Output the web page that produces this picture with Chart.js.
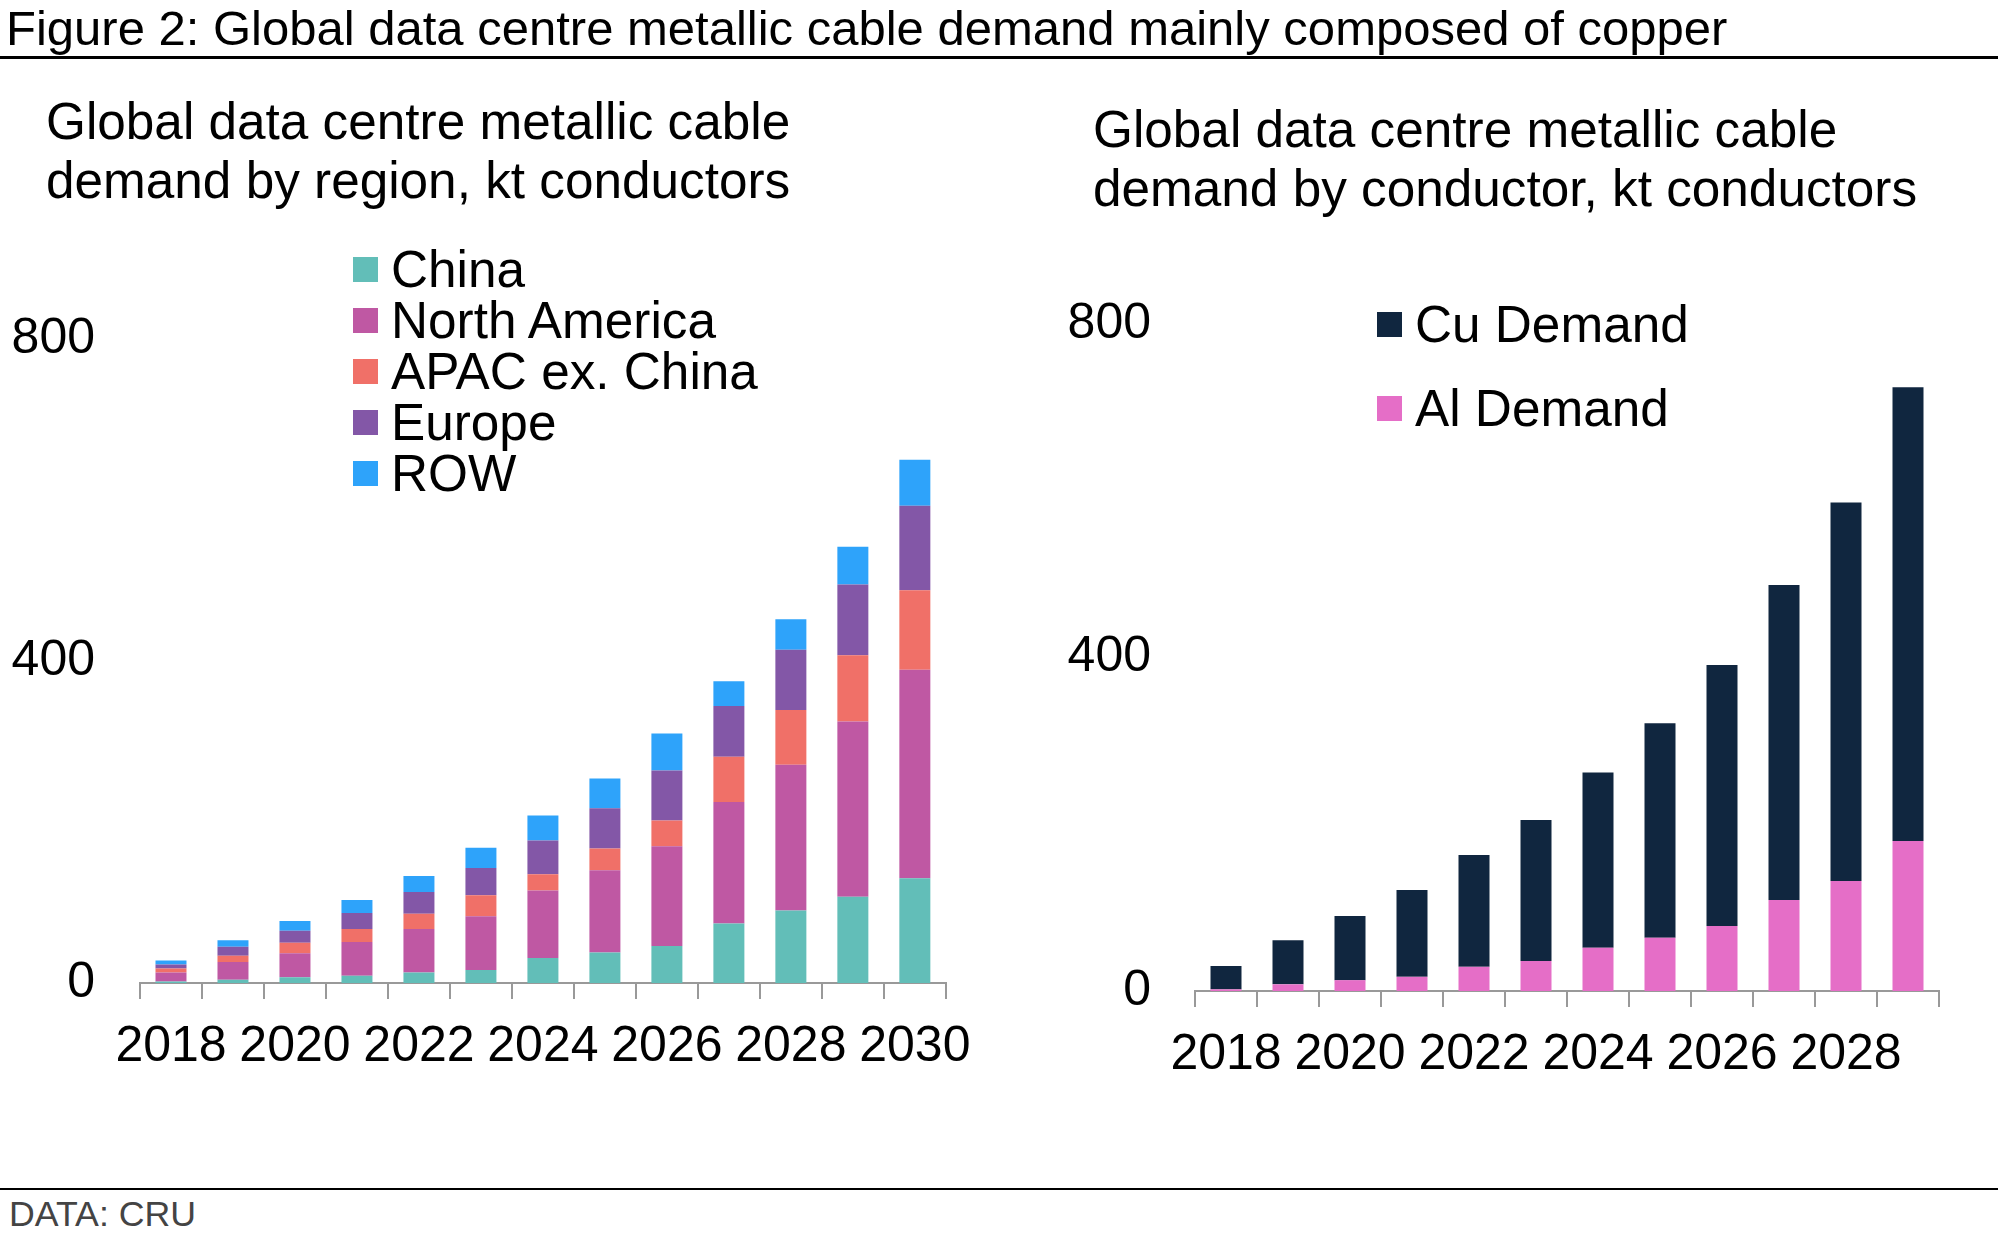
<!DOCTYPE html>
<html>
<head>
<meta charset="utf-8">
<script src="https://cdn.jsdelivr.net/npm/chart.js@4"></script>
<style>
	body { margin: 0; width: 1998px; height: 1234px; background: #fff; font-family: "Liberation Sans", Arial, sans-serif; position: relative; overflow: hidden; }
	.abs { position: absolute; white-space: nowrap; }
	#title { left: 6px; top: 1px; font-size: 49px; line-height: 54px; color: #000; }
	#rule1 { left: 0; top: 56px; width: 1998px; height: 3px; background: #000; }
	#rule2 { left: 0; top: 1188px; width: 1998px; height: 2px; background: #000; }
	#source { left: 9px; top: 1194px; font-size: 35.7px; line-height: 40px; color: #444; }
	.sub { font-size: 51.3px; line-height: 59px; color: #000; }
	#subLeft { left: 46px; top: 92px; }
	#subRight { left: 1093px; top: 100px; }
	.legend { font-size: 51.3px; color: #000; }
	.legend div { display: flex; align-items: center; }
	.legend span.box { display: inline-block; width: 25px; height: 25px; margin-right: 13px; }
	#legLeft { left: 353px; top: 244px; }
	#legLeft div { height: 51px; }
	#legRight { left: 1377px; top: 282px; }
	#legRight div { height: 84px; }
	canvas { position: absolute; }
	#leftChart { left: 0; top: 272px; }
	#rightChart { left: 1000px; top: 258px; }
</style>
</head>
<body>
<div id="title" class="abs">Figure 2: Global data centre metallic cable demand mainly composed of copper</div>
<div id="rule1" class="abs"></div>
<div id="subLeft" class="abs sub">Global data centre metallic cable<br>demand by region, kt conductors</div>
<div id="subRight" class="abs sub">Global data centre metallic cable<br>demand by conductor, kt conductors</div>
<canvas id="leftChart" width="990" height="828"></canvas>
<canvas id="rightChart" width="998" height="842"></canvas>
<div id="legLeft" class="abs legend"></div>
<div id="legRight" class="abs legend"></div>
<div id="rule2" class="abs"></div>
<div id="source" class="abs">DATA: CRU</div>
<script>
// left chart: demand by region, kt
var regionYears = ['2018', '2019', '2020', '2021', '2022', '2023', '2024', '2025', '2026', '2027', '2028', '2029', '2030'];
var china = [2, 4, 7, 9, 13, 16, 31, 38, 46, 74, 90, 107, 130];
var northAmerica = [11, 22, 30, 42, 54, 67, 84, 102, 124, 151, 181, 218, 259];
var apacExChina = [5, 8, 13, 16, 19, 26, 20, 27, 32, 56, 68, 82, 99];
var europe = [5, 11, 15, 20, 27, 34, 42, 50, 62, 63, 75, 88, 105];
var row = [5, 8, 12, 16, 20, 25, 31, 37, 46, 31, 38, 47, 57];

// right chart: demand by conductor, kt
var conductorYears = ['2018', '2019', '2020', '2021', '2022', '2023', '2024', '2025', '2026', '2027', '2028', '2029'];
var cuDemand = [28, 53, 77, 104, 134, 169, 210, 257, 313, 378, 454, 544];
var alDemand = [2, 8, 13, 17, 29, 36, 52, 64, 78, 109, 132, 180];

var yTicks = [0, 400, 800];

var FONT = '"Liberation Sans", Arial, sans-serif';

var regionSets = [
	{ label: 'China', data: china, backgroundColor: '#62BEB8' },
	{ label: 'North America', data: northAmerica, backgroundColor: '#BF58A3' },
	{ label: 'APAC ex. China', data: apacExChina, backgroundColor: '#F07068' },
	{ label: 'Europe', data: europe, backgroundColor: '#8357A7' },
	{ label: 'ROW', data: row, backgroundColor: '#2EA3FA' },
];
var conductorSets = [
	{ label: 'Al Demand', data: alDemand, backgroundColor: '#E56EC7' },
	{ label: 'Cu Demand', data: cuDemand, backgroundColor: '#10263F' },
];

function buildLegend(id, sets) {
	var el = document.getElementById(id);
	sets.forEach(function (s) {
		var row = document.createElement('div');
		var box = document.createElement('span');
		box.className = 'box';
		box.style.background = s.backgroundColor;
		row.appendChild(box);
		row.appendChild(document.createTextNode(s.label));
		el.appendChild(row);
	});
}
buildLegend('legLeft', regionSets);
buildLegend('legRight', [conductorSets[1], conductorSets[0]]);

function makeOptions(yWidth, yPad, xHeight, padding) {
	return {
		responsive: false,
		animation: false,
		layout: { padding: padding },
		plugins: { legend: { display: false }, tooltip: { enabled: false } },
		datasets: { bar: { barPercentage: 0.5, categoryPercentage: 1.0, borderWidth: 0 } },
		scales: {
			x: {
				stacked: true,
				grid: { display: true, offset: true, drawOnChartArea: false, drawTicks: true, tickLength: 16, color: '#999', lineWidth: 2 },
				border: { display: true, color: '#999', width: 2 },
				ticks: {
					autoSkip: false,
					maxRotation: 0,
					padding: 18,
					color: '#000',
					font: { family: FONT, size: 50 },
					callback: function (v, i) { return i % 2 === 0 ? this.getLabelForValue(v) : ''; },
				},
				afterFit: function (s) { s.height = xHeight; },
			},
			y: {
				stacked: true,
				min: 0,
				max: 800,
				grid: { display: false },
				border: { display: false },
				afterBuildTicks: function (s) { s.ticks = yTicks.map(function (v) { return { value: v }; }); },
				ticks: { padding: yPad, color: '#000', font: { family: FONT, size: 50 } },
				afterFit: function (s) { s.width = yWidth; },
			},
		},
	};
}

new Chart(document.getElementById('leftChart'), {
	type: 'bar',
	data: { labels: regionYears, datasets: regionSets },
	options: makeOptions(140, 37, 117, { top: 0, right: 40, left: 0, bottom: 0 }),
});

new Chart(document.getElementById('rightChart'), {
	type: 'bar',
	data: { labels: conductorYears, datasets: conductorSets },
	options: makeOptions(195, 36, 109, { top: 0, right: 59, left: 0, bottom: 0 }),
});
</script>
</body>
</html>
